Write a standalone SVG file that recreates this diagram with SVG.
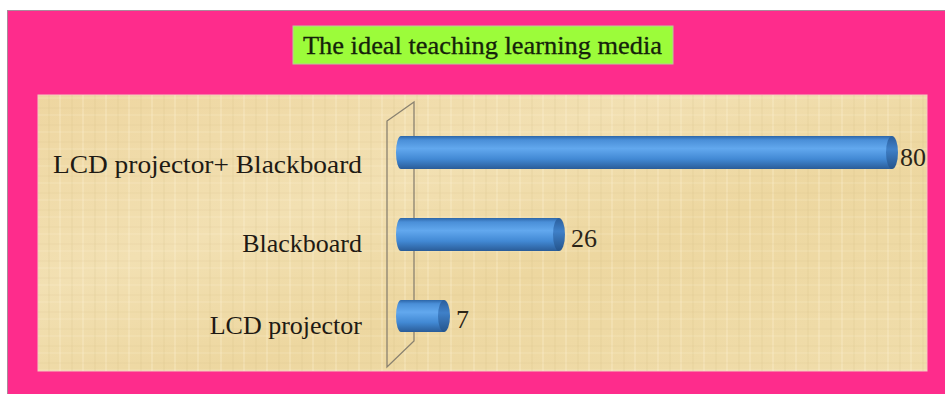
<svg xmlns="http://www.w3.org/2000/svg" width="945" height="394" viewBox="0 0 945 394">
  <defs>
    <style>
      .cat { font-family: "Liberation Serif", "DejaVu Serif", serif; font-size: 26px; fill: #1e1a14; text-anchor: end; }
      .val { font-family: "Liberation Serif", "DejaVu Serif", serif; font-size: 26px; fill: #2a2418; }
      .title { font-family: "Liberation Serif", "DejaVu Serif", serif; font-size: 25px; fill: #15230a; stroke: #15230a; stroke-width: 0.3; }
      .wall { fill: none; stroke: #8a8270; stroke-width: 1.3; }
    </style>
    <linearGradient id="barBody" x1="0" y1="0" x2="0" y2="1">
      <stop offset="0" stop-color="#2d66a8"/>
      <stop offset="0.12" stop-color="#4a8fd8"/>
      <stop offset="0.38" stop-color="#62a8ee"/>
      <stop offset="0.7" stop-color="#4289d4"/>
      <stop offset="1" stop-color="#2a5c98"/>
    </linearGradient>
    <linearGradient id="barCap" x1="0" y1="0" x2="0" y2="1">
      <stop offset="0" stop-color="#2a5e9c"/>
      <stop offset="0.4" stop-color="#3f80c8"/>
      <stop offset="1" stop-color="#24548c"/>
    </linearGradient>
    <linearGradient id="parch" x1="0" y1="0" x2="1" y2="1">
      <stop offset="0" stop-color="#eed6a0"/>
      <stop offset="0.35" stop-color="#f2e0b2"/>
      <stop offset="0.6" stop-color="#edd7a0"/>
      <stop offset="1" stop-color="#f0ddab"/>
    </linearGradient>
    <pattern id="weave" width="23" height="17" patternUnits="userSpaceOnUse">
      <line x1="3" y1="0" x2="3" y2="17" stroke="#c9b07a" stroke-opacity="0.2" stroke-width="1"/>
      <line x1="14" y1="0" x2="14" y2="17" stroke="#fff6dc" stroke-opacity="0.3" stroke-width="1.5"/>
      <line x1="0" y1="6" x2="23" y2="6" stroke="#c9b07a" stroke-opacity="0.15" stroke-width="1"/>
      <line x1="0" y1="13" x2="23" y2="13" stroke="#fff6dc" stroke-opacity="0.25" stroke-width="1"/>
    </pattern>
  </defs>

  <rect x="0" y="0" width="945" height="394" fill="#ffffff"/>
  <g id="frame">
    <rect x="8" y="10" width="937" height="384" fill="#fe2c8c"/>
    <line x1="8" y1="10.5" x2="945" y2="10.5" stroke="#a88a9a" stroke-width="1"/>
    <line x1="7.5" y1="10" x2="7.5" y2="394" stroke="#a88a9a" stroke-width="1"/>
  </g>

  <g id="title">
    <rect x="293" y="26" width="380" height="38" fill="#9cfc3a" stroke="#b9c99a" stroke-width="1"/>
    <text class="title" x="303" y="54" textLength="359" lengthAdjust="spacingAndGlyphs">The ideal teaching learning media</text>
  </g>

  <g id="plot-area">
    <rect x="38" y="95" width="889" height="276" fill="url(#parch)" stroke="#f4c9c0" stroke-width="1"/>
    <rect x="38" y="95" width="889" height="276" fill="url(#weave)"/>
  </g>

  <g id="axis-wall">
    <polygon class="wall" points="387,121 414,102 414,341 387,367"/>
  </g>

  <g id="bar-lcd-blackboard">
    <path d="M401,136 H892 V169 H401 A5,16.5 0 0 1 401,136 Z" fill="url(#barBody)"/>
    <ellipse cx="892" cy="152.5" rx="6" ry="16.5" fill="url(#barCap)"/>
    <text class="val" x="900" y="166">80</text>
  </g>

  <g id="bar-blackboard">
    <path d="M401,218 H559 V251 H401 A5,16.5 0 0 1 401,218 Z" fill="url(#barBody)"/>
    <ellipse cx="559" cy="234.5" rx="6" ry="16.5" fill="url(#barCap)"/>
    <text class="val" x="571" y="247">26</text>
  </g>

  <g id="bar-lcd">
    <path d="M401,300 H444 V332 H401 A5,16 0 0 1 401,300 Z" fill="url(#barBody)"/>
    <ellipse cx="444" cy="316" rx="6" ry="16" fill="url(#barCap)"/>
    <text class="val" x="456" y="328">7</text>
  </g>

  <g id="category-labels">
    <text class="cat" x="362" y="173" textLength="309" lengthAdjust="spacingAndGlyphs">LCD projector+ Blackboard</text>
    <text class="cat" x="362" y="252">Blackboard</text>
    <text class="cat" x="362" y="334">LCD projector</text>
  </g>
</svg>
